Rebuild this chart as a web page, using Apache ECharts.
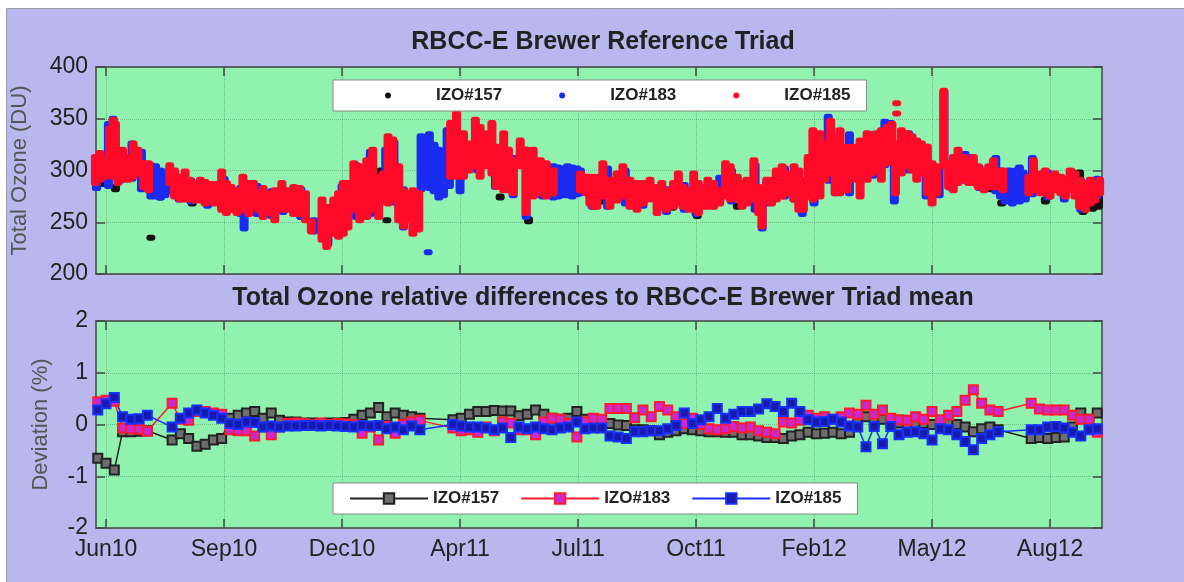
<!DOCTYPE html>
<html>
<head>
<meta charset="utf-8">
<title>RBCC-E Brewer Reference Triad</title>
<script src="https://cdn.jsdelivr.net/npm/echarts@6.0.0/dist/echarts.min.js"></script>
<style>
    html, body { margin: 0; padding: 0; background: #fff; }
    #chart { width: 1184px; height: 582px; }
</style>
</head>
<body>
<div id="chart"></div>
<script>
// x is in days counted from the Jun10 tick (11 Jun 2010), ticks every 100 days
var tickDays = [0, 100, 200, 300, 400, 500, 600, 700, 800];
var tickLabels = ['Jun10', 'Sep10', 'Dec10', 'Apr11', 'Jul11', 'Oct11', 'Feb12', 'May12', 'Aug12'];

// total ozone (DU): [day, lowest, highest] of the readings around that day
var izo157 = [
    [-8, 283, 290], [-2, 287, 287], [4, 300, 310], [8, 282, 284], [38, 235, 235], [46, 274, 276],
    [73, 268, 269], [98, 264, 266], [140, 268, 270], [175, 245, 246], [233, 288, 300], [238, 252, 252],
    [243, 305, 312], [268, 300, 312], [279, 299, 302], [300, 318, 322], [334, 274, 275], [358, 251, 253],
    [369, 276, 277], [420, 270, 272], [444, 268, 268], [480, 264, 266], [501, 256, 265], [535, 265, 266],
    [583, 272, 274], [620, 290, 300], [662, 341, 343], [700, 285, 290], [750, 282, 286], [759, 268, 269],
    [796, 270, 272], [810, 280, 285], [818, 285, 299], [825, 290, 298], [828, 260, 263], [836, 263, 270],
    [841, 265, 275]
];
var izo183 = [
    [-8, 283, 305], [2, 285, 345], [6, 300, 350], [12, 290, 318], [22, 292, 326], [30, 282, 318],
    [38, 275, 305], [42, 275, 304], [46, 274, 300], [50, 276, 298], [53, 280, 300], [62, 272, 290],
    [72, 270, 290], [86, 266, 285], [100, 262, 292], [114, 258, 283], [117, 244, 262], [128, 258, 285],
    [140, 256, 280], [150, 260, 282], [165, 255, 282], [176, 241, 252], [188, 229, 262], [200, 240, 285],
    [212, 255, 305], [224, 258, 318], [237, 270, 320], [244, 269, 327], [252, 245, 282], [262, 248, 280],
    [267, 282, 333], [270, 291, 330], [273, 221, 221], [274, 283, 335], [278, 280, 325], [282, 274, 320],
    [286, 276, 318], [289, 303, 339], [291, 285, 320], [300, 280, 300], [315, 300, 330], [330, 284, 320],
    [345, 276, 312], [356, 255, 320], [370, 275, 305], [379, 274, 304], [383, 275, 303], [387, 276, 302],
    [391, 276, 304], [395, 275, 303], [399, 277, 302], [402, 278, 300], [412, 265, 288], [425, 265, 302],
    [440, 268, 300], [455, 266, 286], [475, 260, 282], [490, 262, 286], [500, 258, 282], [520, 270, 293],
    [530, 270, 300], [550, 262, 305], [556, 244, 272], [560, 268, 290], [575, 275, 302], [590, 258, 290],
    [600, 268, 330], [612, 290, 352], [618, 278, 330], [630, 278, 335], [650, 295, 335], [660, 305, 347],
    [665, 310, 346], [668, 270, 320], [680, 300, 336], [695, 275, 323], [706, 276, 302], [710, 310, 375],
    [716, 283, 305], [728, 290, 316], [731, 290, 313], [740, 283, 303], [754, 280, 312], [758, 275, 300],
    [762, 270, 286], [765, 272, 300], [768, 268, 295], [771, 278, 300], [774, 270, 303], [777, 277, 298],
    [779, 272, 295], [785, 277, 312], [798, 274, 298], [812, 272, 292], [826, 262, 290], [840, 275, 292]
];
var izo185 = [
    [-9, 288, 313], [-5, 291, 317], [-1, 294, 310], [3, 296, 340], [6, 294, 349], [8, 300, 345],
    [10, 288, 313], [14, 291, 320], [19, 291, 313], [23, 294, 326], [27, 297, 320], [32, 284, 307],
    [36, 281, 307], [54, 288, 305], [58, 275, 300], [63, 272, 294], [67, 272, 299], [71, 272, 291],
    [75, 271, 288], [80, 271, 291], [84, 268, 289], [88, 272, 287], [92, 268, 287], [98, 262, 299],
    [102, 259, 288], [106, 262, 284], [111, 259, 281], [116, 262, 294], [121, 258, 288], [125, 265, 288],
    [129, 262, 278], [133, 255, 283], [139, 259, 278], [143, 252, 281], [149, 262, 288], [153, 262, 281],
    [159, 258, 284], [164, 258, 283], [169, 252, 278], [174, 241, 251], [183, 233, 272], [187, 226, 265],
    [193, 239, 272], [197, 236, 278], [201, 239, 288], [205, 245, 288], [210, 262, 307], [215, 252, 304],
    [221, 255, 310], [226, 262, 320], [231, 255, 294], [235, 275, 297], [239, 268, 333], [243, 272, 330],
    [248, 252, 304], [252, 246, 281], [256, 252, 278], [260, 239, 281], [265, 243, 278],
    [292, 294, 346], [297, 294, 355], [303, 294, 336], [308, 300, 326], [313, 304, 349], [317, 294, 342],
    [323, 304, 336], [327, 297, 346], [331, 284, 323], [337, 281, 336], [341, 281, 320], [345, 278, 310],
    [351, 304, 329], [356, 259, 320], [362, 275, 320], [368, 278, 310], [373, 275, 307], [379, 278, 300],
    [402, 281, 297], [407, 278, 294], [410, 268, 294], [413, 265, 291], [416, 265, 294], [421, 275, 307],
    [427, 265, 291], [433, 271, 297], [438, 275, 304], [444, 265, 291], [450, 262, 288], [455, 268, 288],
    [461, 272, 291], [467, 259, 284], [471, 265, 288], [475, 262, 281], [481, 265, 288], [485, 268, 297],
    [489, 265, 284], [494, 262, 281], [498, 262, 297], [502, 259, 288], [506, 265, 284], [510, 265, 291],
    [515, 265, 288], [520, 268, 281], [525, 275, 307], [529, 272, 304], [535, 272, 294], [539, 265, 288],
    [543, 268, 291], [549, 272, 310], [553, 259, 284], [556, 246, 275], [560, 271, 291], [564, 268, 291],
    [568, 272, 300], [573, 275, 304], [577, 278, 297], [583, 272, 304], [587, 262, 300], [591, 262, 288],
    [595, 275, 313], [599, 272, 339], [605, 275, 336], [609, 291, 326], [614, 297, 348], [618, 278, 333],
    [622, 278, 339], [628, 281, 323], [633, 291, 323], [639, 275, 329], [645, 291, 336], [649, 297, 333],
    [653, 300, 336], [657, 291, 339], [662, 307, 342], [666, 313, 345], [669, 278, 326], [670, 355, 355],
    [670, 365, 365], [674, 297, 339], [679, 304, 336], [683, 300, 333], [687, 291, 329], [691, 297, 326],
    [696, 278, 323], [700, 268, 307], [704, 278, 304], [710, 304, 377], [714, 284, 307], [718, 281, 313],
    [722, 288, 320], [727, 291, 313], [731, 288, 310], [735, 288, 313], [739, 284, 304], [744, 281, 300],
    [748, 284, 304], [752, 284, 310], [756, 284, 300], [760, 281, 300],
    [782, 278, 294], [786, 281, 310], [792, 278, 297], [796, 278, 300], [800, 275, 294], [804, 281, 297],
    [809, 278, 294], [813, 275, 291], [817, 281, 300], [821, 275, 297], [825, 265, 291], [830, 262, 288],
    [834, 268, 291], [838, 271, 287], [842, 278, 291]
];

// weekly relative difference to the triad mean (%)
var weekDays = [
    -7, 0, 7, 14, 21, 28, 35, 56, 63, 70,
    77, 84, 91, 98, 105, 112, 119, 126, 133, 140,
    147, 154, 161, 168, 175, 182, 189, 196, 203, 210,
    217, 224, 231, 238, 245, 252, 259, 266, 294, 301,
    308, 315, 322, 329, 336, 343, 350, 357, 364, 371,
    378, 385, 392, 399, 406, 413, 420, 427, 434, 441,
    448, 455, 462, 469, 476, 483, 490, 497, 504, 511,
    518, 525, 532, 539, 546, 553, 560, 567, 574, 581,
    588, 595, 602, 609, 616, 623, 630, 637, 644, 651,
    658, 665, 672, 679, 686, 693, 700, 707, 714, 721,
    728, 735, 742, 749, 756, 784, 791, 798, 805, 812,
    819, 826, 833, 840
];
var dev157 = [
    -0.65, -0.75, -0.88, -0.14, -0.14, -0.13, -0.12, -0.30, -0.18, -0.27,
    -0.42, -0.38, -0.30, -0.27, 0.12, 0.18, 0.22, 0.25, 0.12, 0.22,
    0.08, 0.05, 0.05, 0.03, 0.03, 0.02, 0.03, 0.03, 0.04, 0.10,
    0.18, 0.22, 0.33, 0.15, 0.22, 0.18, 0.15, 0.12, 0.09, 0.12,
    0.20, 0.25, 0.25, 0.27, 0.26, 0.26, 0.17, 0.20, 0.28, 0.20,
    0.12, 0.10, 0.12, 0.25, 0.10, 0.05, 0.00, 0.02, -0.01, -0.02,
    -0.10, -0.10, -0.12, -0.20, -0.15, -0.12, -0.08, -0.10, -0.12, -0.14,
    -0.14, -0.15, -0.15, -0.20, -0.20, -0.22, -0.25, -0.25, -0.27, -0.22,
    -0.20, -0.15, -0.18, -0.17, -0.15, -0.18, -0.15, 0.10, 0.15, 0.05,
    0.10, 0.05, 0.03, 0.02, 0.02, 0.02, 0.00, 0.02, 0.02, 0.00,
    -0.05, -0.14, -0.08, -0.05, -0.10, -0.27, -0.25, -0.27, -0.25, -0.24,
    -0.05, 0.22, 0.10, 0.22
];
var dev183 = [
    0.44, 0.47, 0.45, -0.07, -0.08, -0.09, -0.13, 0.41, 0.10, 0.08,
    0.25, 0.25, 0.22, 0.20, -0.10, -0.12, -0.12, -0.22, -0.05, -0.20,
    -0.05, 0.02, 0.03, 0.02, 0.00, 0.03, 0.00, 0.02, 0.01, 0.00,
    -0.17, -0.05, -0.30, -0.04, -0.17, 0.00, 0.05, 0.08, -0.07, -0.12,
    -0.10, -0.15, -0.05, -0.12, 0.05, 0.03, -0.10, -0.10, -0.20, 0.05,
    0.12, 0.10, 0.02, -0.24, 0.05, 0.12, 0.10, 0.31, 0.31, 0.31,
    0.13, 0.28, 0.15, 0.35, 0.28, 0.15, 0.02, 0.12, 0.00, -0.08,
    -0.10, -0.08, -0.04, -0.07, -0.05, -0.12, -0.15, -0.18, 0.05, 0.03,
    0.08, 0.18, 0.12, 0.15, 0.10, 0.15, 0.22, 0.20, 0.37, 0.20,
    0.28, 0.12, 0.09, 0.08, 0.15, 0.10, 0.25, 0.09, 0.18, 0.25,
    0.47, 0.67, 0.41, 0.28, 0.25, 0.41, 0.30, 0.28, 0.28, 0.28,
    0.18, 0.10, 0.10, -0.15
];
var dev185 = [
    0.28, 0.40, 0.52, 0.15, 0.10, 0.11, 0.18, -0.05, 0.12, 0.22,
    0.28, 0.22, 0.18, 0.12, 0.02, 0.00, 0.05, 0.04, -0.05, -0.03,
    -0.05, -0.03, -0.03, -0.02, -0.02, -0.03, -0.02, -0.03, -0.04, -0.05,
    -0.02, -0.03, -0.02, -0.08, -0.05, -0.10, -0.03, -0.10, 0.00, -0.03,
    -0.05, -0.05, -0.07, -0.10, -0.07, -0.25, -0.05, -0.08, -0.05, -0.08,
    -0.10, -0.07, -0.05, 0.05, -0.08, -0.07, -0.07, -0.22, -0.24, -0.27,
    -0.14, -0.14, -0.12, -0.12, -0.08, -0.02, 0.22, 0.02, 0.09, 0.15,
    0.31, 0.12, 0.20, 0.25, 0.25, 0.30, 0.40, 0.35, 0.25, 0.41,
    0.25, 0.09, 0.05, 0.06, 0.10, 0.05, -0.03, -0.05, -0.43, -0.04,
    -0.37, -0.04, -0.20, -0.15, -0.14, -0.18, -0.30, -0.08, -0.10, -0.20,
    -0.33, -0.49, -0.27, -0.20, -0.14, -0.10, -0.10, -0.05, -0.04, -0.07,
    -0.15, -0.22, -0.10, -0.08
];

var font = 'Liberation Sans, Arial, sans-serif';
var frame = '#454545';
var grid = {color: 'rgba(40,90,55,0.35)', type: 'dotted', width: 1};

function pairs(values) {
    return weekDays.map(function (d, i) {
        return [d, values[i]];
    });
}

// one vertical streak per entry, from lowest to highest reading
function streak(params, api) {
    var top = api.coord([api.value(0), api.value(2)]);
    var bottom = api.coord([api.value(0), api.value(1)]);
    var w = 9;
    return {
        type: 'rect',
        shape: {x: top[0] - w / 2, y: top[1] - 3, width: w, height: bottom[1] - top[1] + 6, r: 3},
        style: {fill: api.visual('color')}
    };
}

function xAxis(gridIndex, position, labels, split) {
    return {
        type: 'value', gridIndex: gridIndex, position: position, min: -8.5, max: 844,
        axisLine: {show: true, onZero: false, lineStyle: {color: frame, width: 1.5}},
        axisTick: {inside: true, length: 9, customValues: tickDays, lineStyle: {color: frame, width: 1.5}},
        axisLabel: {
            show: labels, customValues: tickDays, margin: 10,
            fontSize: 23, color: '#222', fontFamily: font,
            formatter: function (v) { return tickLabels[Math.round(v / 100)]; }
        },
        splitLine: {show: split, lineStyle: grid}
    };
}

function yAxis(gridIndex, position, min, max, step, name, gap) {
    var left = position == 'left';
    return {
        type: 'value', gridIndex: gridIndex, position: position, min: min, max: max, interval: step,
        name: left ? name : '', nameLocation: 'middle', nameGap: gap,
        nameTextStyle: {fontSize: 22, color: '#555', fontFamily: font},
        axisLine: {show: true, onZero: false, lineStyle: {color: frame, width: 1.5}},
        axisTick: {inside: true, length: 9, lineStyle: {color: frame, width: 1.5}},
        axisLabel: {show: left, margin: 8, fontSize: 23, color: '#222', fontFamily: font},
        splitLine: {show: left, lineStyle: grid}
    };
}

function ozoneSeries(name, data, color) {
    return {
        name: name, type: 'custom', xAxisIndex: 0, yAxisIndex: 0,
        renderItem: streak, encode: {x: 0, y: [1, 2]},
        itemStyle: {color: color}, data: data
    };
}

function devSeries(name, values, line, fill) {
    return {
        name: name, type: 'line', xAxisIndex: 2, yAxisIndex: 2, data: pairs(values),
        symbol: 'rect', symbolSize: 9,
        lineStyle: {color: line, width: 1.5},
        itemStyle: {color: fill, borderColor: line, borderWidth: 2}
    };
}

var legendText = {fontSize: 17, fontWeight: 'bold', color: '#222', fontFamily: font};

var myChart = echarts.init(document.getElementById('chart'));
var option = {
    animation: false,
    backgroundColor: '#fff',
    graphic: [{
        type: 'rect', z: -10, silent: true,
        shape: {x: 6.5, y: 8.5, width: 1200, height: 600},
        style: {fill: '#b8b8ee', stroke: '#9a9aa8', lineWidth: 1}
    }],
    title: [
        {text: 'RBCC-E Brewer Reference Triad', left: 598, top: 25, textAlign: 'center',
            textStyle: {fontSize: 25, fontWeight: 'bold', color: '#222', fontFamily: font}},
        {text: 'Total Ozone relative differences to RBCC-E Brewer Triad mean', left: 598, top: 281, textAlign: 'center',
            textStyle: {fontSize: 25, fontWeight: 'bold', color: '#222', fontFamily: font}}
    ],
    legend: [
        {
            // dot, then the name pushed right as in the original box
            top: 80, left: 333, selectedMode: false,
            data: [{name: 'IZO#157', icon: 'circle'}, {name: 'IZO#183', icon: 'circle'}, {name: 'IZO#185', icon: 'circle'}],
            itemWidth: 6, itemHeight: 6, itemGap: 57,
            padding: [7, 16, 7, 52], backgroundColor: '#fff', borderColor: '#888', borderWidth: 1,
            formatter: function (n) { return '{t|' + n + '}'; },
            textStyle: {rich: {t: {padding: [0, 0, 0, 40], fontSize: 17, fontWeight: 'bold', color: '#222', fontFamily: font}}}
        },
        {
            top: 483, left: 333, selectedMode: false,
            data: ['IZO#157 dev', 'IZO#183 dev', 'IZO#185 dev'],
            itemWidth: 78, itemHeight: 13, itemGap: 21,
            padding: [7, 16], backgroundColor: '#fff', borderColor: '#888', borderWidth: 1,
            textStyle: legendText,
            formatter: function (n) { return n.split(' ')[0]; }
        }
    ],
    grid: [
        {left: 96, right: 82, top: 67, height: 207, show: true, backgroundColor: '#91f2af', borderWidth: 0},
        {left: 96, right: 82, top: 321, height: 207, show: true, backgroundColor: '#91f2af', borderWidth: 0}
    ],
    xAxis: [
        xAxis(0, 'bottom', false, true),
        xAxis(0, 'top', false, false),
        xAxis(1, 'bottom', true, true),
        xAxis(1, 'top', false, false)
    ],
    yAxis: [
        yAxis(0, 'left', 200, 400, 50, 'Total Ozone (DU)', 65),
        yAxis(0, 'right', 200, 400, 50, '', 0),
        yAxis(1, 'left', -2, 2, 1, 'Deviation (%)', 44),
        yAxis(1, 'right', -2, 2, 1, '', 0)
    ],
    series: [
        ozoneSeries('IZO#157', izo157, '#111'),
        ozoneSeries('IZO#183', izo183, '#1a2cf0'),
        ozoneSeries('IZO#185', izo185, '#ff0a28'),
        devSeries('IZO#157 dev', dev157, '#222', '#6e6e6e'),
        devSeries('IZO#183 dev', dev183, '#ff1a2e', '#c82ad0'),
        devSeries('IZO#185 dev', dev185, '#1530ff', '#1a1aa8')
    ]
};
myChart.setOption(option);
</script>
</body>
</html>
